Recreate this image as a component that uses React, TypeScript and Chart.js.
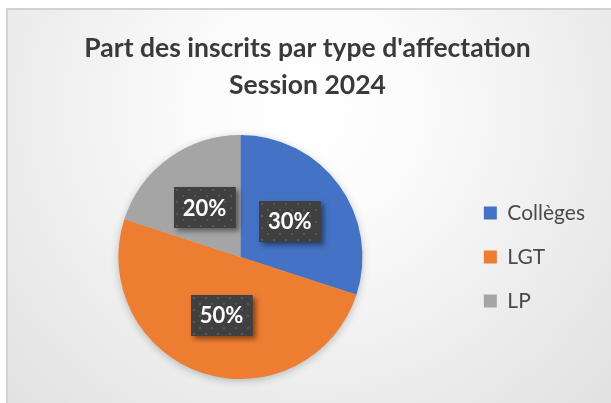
import React, { useEffect, useRef } from "react";
import { Chart, registerables } from "chart.js";

Chart.register(...registerables);

const categories = ["Collèges", "LGT", "LP"];
const values = [30, 50, 20];
const colors = ["#4472C4", "#ED7D31", "#A5A5A5"];
const titleLines = ["Part des inscrits par type d'affectation", "Session 2024"];

const frameBackground = {
  id: "frameBackground",
  beforeDraw(chart: any) {
    const { ctx, width, height } = chart;
    ctx.save();
    ctx.fillStyle = "#ffffff";
    ctx.fillRect(0, 0, width, height);
    const g = ctx.createRadialGradient(305, 110, 0, 305, 110, 460);
    g.addColorStop(0, "#ffffff");
    g.addColorStop(0.25, "#fbfbfb");
    g.addColorStop(1, "#dedede");
    ctx.fillStyle = g;
    ctx.fillRect(7, 9, width, height);
    ctx.strokeStyle = "#d2d2d2";
    ctx.lineWidth = 2;
    ctx.strokeRect(7, 9, width + 10, height + 10);
    ctx.restore();
  },
};

const pieShadow = {
  id: "pieShadow",
  beforeDatasetsDraw(chart: any) {
    const meta = chart.getDatasetMeta(0);
    const arc = meta.data[0];
    if (!arc) return;
    const { ctx } = chart;
    ctx.save();
    ctx.shadowColor = "rgba(0,0,0,0.28)";
    ctx.shadowBlur = 10;
    ctx.shadowOffsetY = 2;
    ctx.fillStyle = "#bbbbbb";
    ctx.beginPath();
    ctx.arc(arc.x, arc.y, arc.outerRadius - 1, 0, Math.PI * 2);
    ctx.fill();
    ctx.restore();
  },
};

let patternCache: CanvasPattern | null = null;
function getPattern(ctx: CanvasRenderingContext2D) {
  if (patternCache) return patternCache;
  const c = document.createElement("canvas");
  c.width = 12;
  c.height = 12;
  const p = c.getContext("2d")!;
  p.fillStyle = "#404040";
  p.fillRect(0, 0, 12, 12);
  p.fillStyle = "#575757";
  p.fillRect(2, 2, 2, 2);
  p.fillRect(8, 8, 2, 2);
  patternCache = ctx.createPattern(c, "repeat");
  return patternCache;
}

const boxLabels = {
  id: "boxLabels",
  afterDatasetsDraw(chart: any) {
    const { ctx } = chart;
    const meta = chart.getDatasetMeta(0);
    const data = chart.data.datasets[0].data as number[];
    const total = data.reduce((a, b) => a + b, 0);
    ctx.save();
    ctx.font = "bold 22px Lato";
    meta.data.forEach((arc: any, i: number) => {
      const pt = arc.getCenterPoint();
      const txt = Math.round((data[i] / total) * 100) + "%";
      const tw = ctx.measureText(txt).width;
      const w = tw + 18;
      const h = 41;
      const x = Math.round(pt.x - w / 2);
      const y = Math.round(pt.y - h / 2);
      ctx.save();
      ctx.shadowColor = "rgba(0,0,0,0.45)";
      ctx.shadowBlur = 5;
      ctx.shadowOffsetX = 3;
      ctx.shadowOffsetY = 3;
      ctx.fillStyle = "#404040";
      ctx.fillRect(x, y, w, h);
      ctx.restore();
      ctx.fillStyle = getPattern(ctx);
      ctx.save();
      ctx.translate(x, y);
      ctx.fillRect(0, 0, w, h);
      ctx.restore();
      ctx.fillStyle = "#ffffff";
      ctx.textAlign = "center";
      ctx.textBaseline = "middle";
      ctx.fillText(txt, pt.x, pt.y + 1);
    });
    ctx.restore();
  },
};

export default function App() {
  const ref = useRef<HTMLCanvasElement>(null);
  useEffect(() => {
    if (!ref.current) return;
    const chart = new Chart(ref.current, {
      type: "pie",
      data: {
        labels: categories,
        datasets: [
          {
            data: values,
            backgroundColor: colors,
            borderWidth: 0,
          },
        ],
      },
      options: {
        responsive: false,
        animation: false,
        layout: { padding: { top: 10, bottom: 24, left: 20, right: 16 } },
        plugins: {
          tooltip: { enabled: false },
          title: {
            display: true,
            text: titleLines,
            color: "#3a3a3a",
            font: { family: "Lato", weight: "bold", size: 26.5, lineHeight: 37 / 26.5 },
            padding: { top: 19.5, bottom: 31.5 },
          },
          legend: {
            position: "right",
            fullSize: false,
            labels: {
              boxWidth: 13,
              boxHeight: 13,
              padding: 23,
              color: "#4a4a4a",
              font: { family: "Lato", size: 21 },
            },
          },
        },
      },
      plugins: [frameBackground, pieShadow, boxLabels],
    });
    return () => chart.destroy();
  }, []);
  return (
    <div style={{ position: "absolute", left: 0, top: 0, width: 611, height: 403 }}>
      <canvas ref={ref} width={611} height={403} />
    </div>
  );
}
